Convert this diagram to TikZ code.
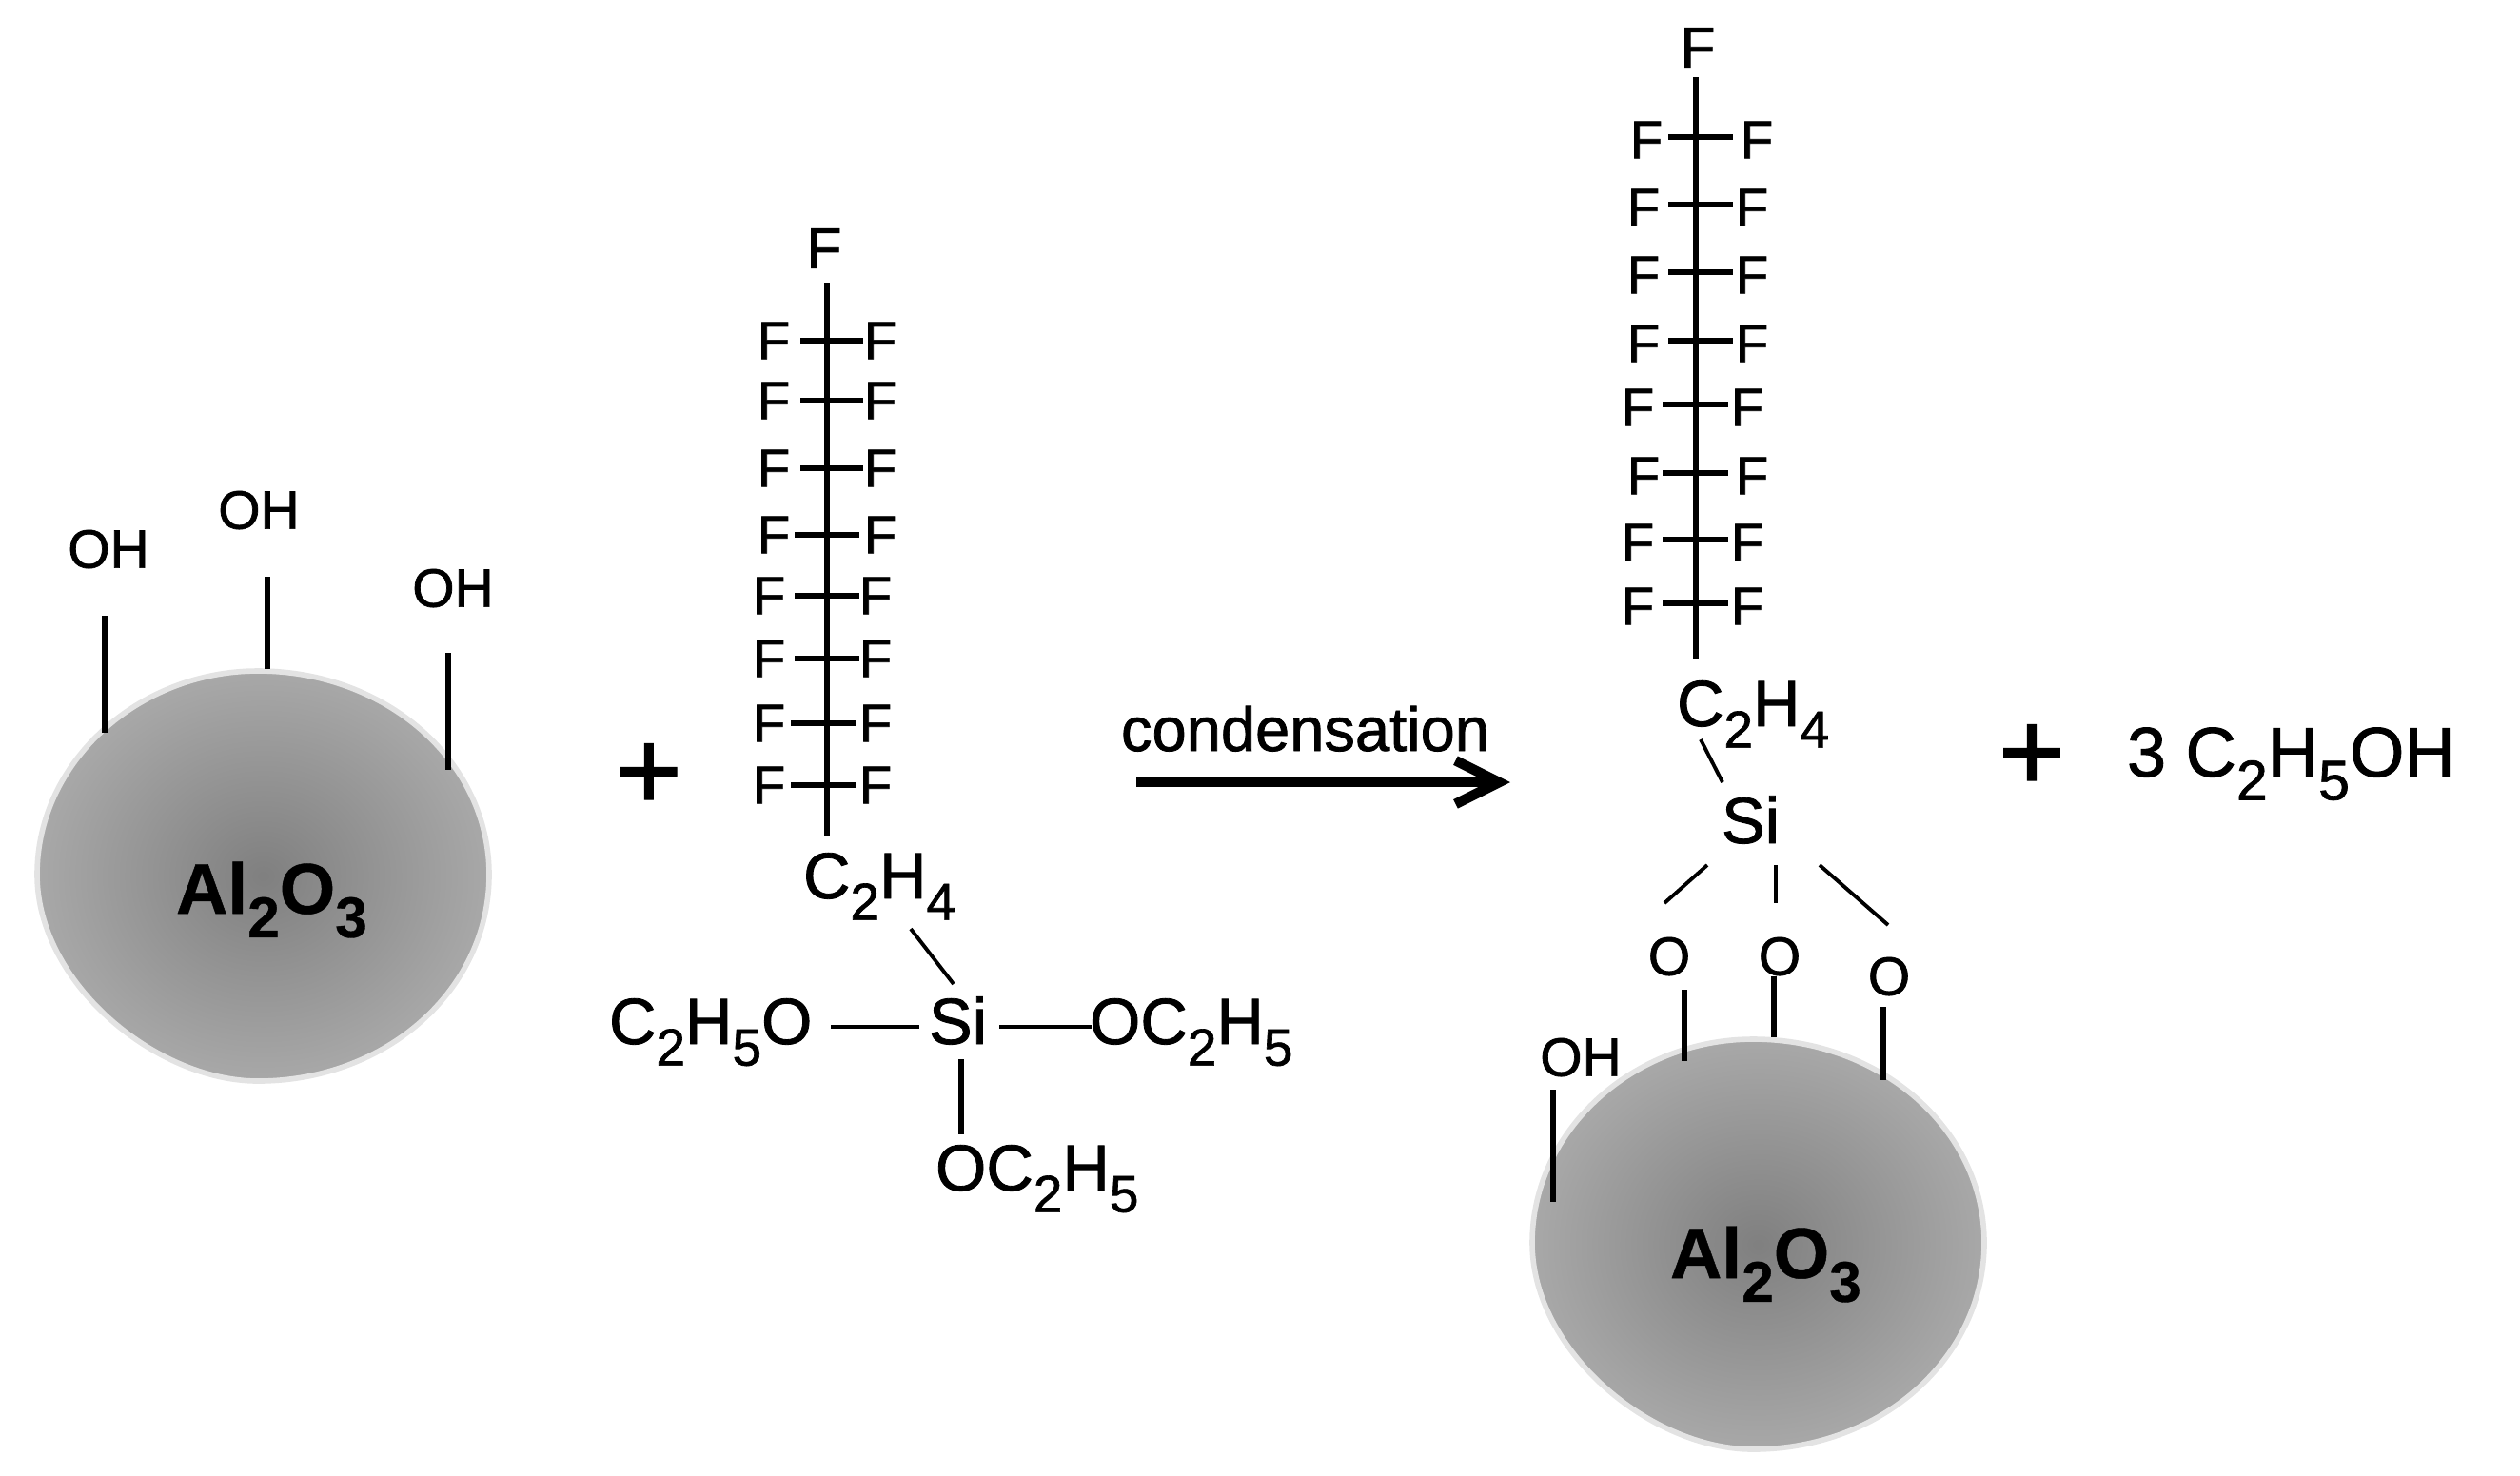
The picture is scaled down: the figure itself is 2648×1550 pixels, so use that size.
\documentclass[tikz,border=0pt]{standalone}
\usepackage{graphicx}
\usepackage{fontspec}
\setmainfont{Liberation Sans}[FakeBold=1.2,BoldFeatures={FakeBold=0.6}]
\usetikzlibrary{arrows.meta}
\newcommand{\chemsub}[1]{\raisebox{-0.33em}{\scalebox{.8}{#1}}}
\newcommand{\bondline}[4]{\coordinate (#1a) at (#2); \coordinate (#1b) at (#3); \draw[#4] (#1a) -- (#1b);}
\newcommand{\blobpath}{(1842,1092) .. controls (1977,1092) and (2085,1187) .. (2085,1306) .. controls (2085,1427) and (1977,1523) .. (1842,1523) .. controls (1735,1523) and (1610,1420) .. (1610,1306) .. controls (1610,1187) and (1717,1092) .. (1842,1092) -- cycle}
\tikzset{
  lab/.style={inner sep=0pt,outer sep=0pt,text=black},
  fsmall/.style={lab,font=\fontsize{16pt}{18pt}\selectfont},
  ffull/.style={lab,font=\fontsize{16.2pt}{18pt}\selectfont},
  fbig/.style={lab,font=\fontsize{17.2pt}{19pt}\selectfont},
  chem/.style={lab,anchor=base west,font=\fontsize{19.5pt}{22pt}\selectfont},
  oxide/.style={lab,anchor=base west,font=\bfseries\fontsize{21.4pt}{24pt}\selectfont},
  plus/.style={lab,font=\fontsize{34pt}{36pt}\selectfont},
  bondmain/.style={line width=1.5pt,black},
  bondthin/.style={line width=1.1pt,black},
  particle/.style={line width=1.6pt,draw=black!11,inner color=black!50,outer color=black!34},
}
\begin{document}
\begin{tikzpicture}[x=0.01cm,y=-0.01cm]
\useasboundingbox (0,0) rectangle (2648,1550);
% particles
\path[particle,shift={(-1571,-387)}] \blobpath;
\path[particle] \blobpath;
\node[oxide] (oxL) at (185,960) {Al\chemsub{2}O\chemsub{3}};
\node[oxide] (oxR) at (1755,1343) {Al\chemsub{2}O\chemsub{3}};
% left particle OH groups
\node[ffull] (oh1) at (114,577) {OH};
\node[ffull] (oh2) at (272,536) {OH};
\node[ffull] (oh3) at (476,618) {OH};
\bondline{la}{110,647}{110,770}{bondmain}
\bondline{lb}{281,606}{281,703}{bondmain}
\bondline{lc}{471,686}{471,809}{bondmain}
% plus signs
\node[plus] (plusA) at (682,816) {+};
\node[plus] (plusB) at (2135,796) {+};
% silane chain
\node[fbig] (topA) at (866,261) {F};
\bondline{spa}{869,297}{869,878}{bondmain}
\foreach \i/\y/\lx/\rx/\a/\b in {1/358/813/925/841/907,2/421/813/925/841/907,3/492/813/925/841/907,4/562/813/925/835/903,5/626/808/920/835/903,6/692/808/920/835/903,7/760/808/920/831/899,8/825/808/920/831/899}{
  \node[fsmall] (al\i) at (\lx,\y) {F};
  \node[fsmall] (ar\i) at (\rx,\y) {F};
  \bondline{ab\i}{\a,\y}{\b,\y}{bondmain}
}
\node[chem] (ceA) at (844,944) {C\chemsub{2}H\chemsub{4}};
\node[chem] (siA) at (976,1097) {Si};
\node[chem] (etL) at (640,1097) {C\chemsub{2}H\chemsub{5}O};
\node[chem] (etR) at (1145,1097) {OC\chemsub{2}H\chemsub{5}};
\node[chem] (etB) at (983,1251) {OC\chemsub{2}H\chemsub{5}};
\bondline{sd}{957,976}{1002,1034}{bondthin}
\bondline{sl}{873,1079}{966,1079}{bondthin}
\bondline{sr}{1050,1079}{1147,1079}{bondthin}
\bondline{sv}{1010,1113}{1010,1192}{bondmain}
% reaction arrow
\node[lab,anchor=base west,font=\fontsize{18.5pt}{20pt}\selectfont] (cond) at (1178,789) {condensation};
\coordinate (arA) at (1194,822);
\coordinate (arB) at (1587,822);
\draw[line width=3pt,-{Straight Barb[length=13pt,width=13pt]}] (arA) -- (arB);
% product chain
\node[fbig] (topB) at (1784,50) {F};
\bondline{spb}{1782,81}{1782,693}{bondmain}
\foreach \i/\y/\lx/\rx/\a/\b in {1/144/1730/1846/1753/1821,2/215/1727/1841/1753/1821,3/286/1727/1841/1753/1821,4/358/1727/1841/1753/1821,5/425/1721/1836/1747/1816,6/497/1727/1841/1747/1816,7/567/1721/1836/1747/1816,8/634/1721/1836/1747/1816}{
  \node[fsmall] (bl\i) at (\lx,\y+3) {F};
  \node[fsmall] (br\i) at (\rx,\y+3) {F};
  \bondline{bb\i}{\a,\y}{\b,\y}{bondmain}
}
\node[chem] (ceB) at (1762,763) {C\chemsub{2}H\chemsub{4}};
\node[chem] (siB) at (1809,886) {Si};
\bondline{pd}{1787,777}{1810,822}{bondthin}
\bondline{pa}{1794,909}{1749,949}{bondthin}
\bondline{pb}{1866,909}{1866,949}{bondthin}
\bondline{pc}{1912,909}{1984,972}{bondthin}
\node[ffull] (oa) at (1754,1005) {O};
\node[ffull] (ob) at (1870,1005) {O};
\node[ffull] (oc) at (1985,1026) {O};
\bondline{qa}{1770,1040}{1770,1115}{bondmain}
\bondline{qb}{1864,1026}{1864,1090}{bondmain}
\bondline{qc}{1979,1058}{1979,1135}{bondmain}
\node[ffull] (oh4) at (1661,1111) {OH};
\bondline{qd}{1632,1145}{1632,1263}{bondmain}
% ethanol
\node[chem,font=\fontsize{21pt}{23pt}\selectfont] (etoh) at (2235,816) {3 C\chemsub{2}H\chemsub{5}OH};
\end{tikzpicture}
\end{document}
